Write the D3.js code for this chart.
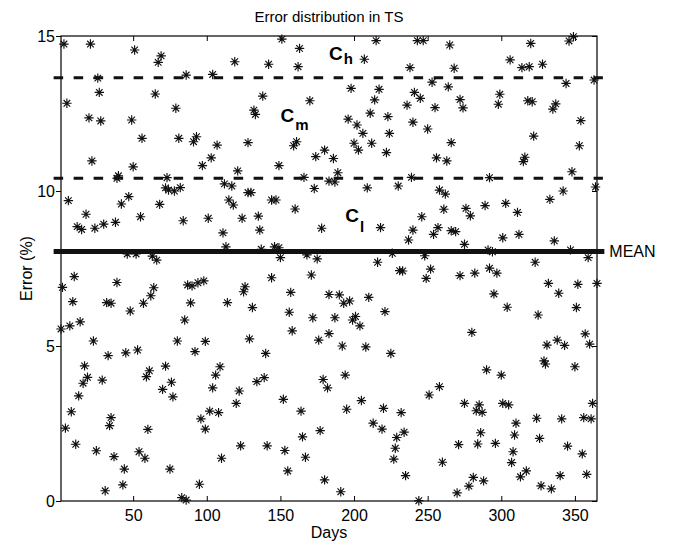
<!DOCTYPE html>
<html>
<head>
<meta charset="utf-8">
<script src="https://cdn.jsdelivr.net/npm/d3@7"></script>
<style>
  body { margin: 0; background: #fff; }
  text { font-family: "Liberation Sans", Arial, sans-serif; fill: #000; }
</style>
</head>
<body>
<div id="chart"></div>
<script>
// one reading per point, day of year and error in %
var days = [
  3, 21, 51, 69, 67, 26, 86, 27, 5, 65, 79, 20, 28, 49, 56, 81, 91, 22, 50, 40, 39, 73, 72, 74, 78, 82,
  151, 163, 119, 142, 162, 104, 138, 170, 132, 133, 93, 107, 128, 161, 159, 180, 103, 174, 97, 121, 149, 166, 112, 117, 173, 183,
  215, 243, 247, 265, 207, 238, 268, 253, 264, 198, 217, 241, 245, 214, 236, 255, 272, 274, 211, 223, 196, 202, 240, 250,
  206, 224, 200, 203, 212, 222, 266, 186, 256, 263, 189, 187, 239, 209, 230, 258, 262,
  349, 346, 320, 306, 314, 319, 328, 344, 363, 299, 298, 318, 321, 337, 335, 354, 322, 353, 316, 315, 348, 292, 364, 342,
  6, 18, 12, 15, 24, 30, 38, 42, 47, 55, 68, 84, 46, 52, 63, 66, 10, 2, 39, 64, 62, 87, 90, 9, 32, 35, 57, 48, 89, 14, 7, 1, 85, 23, 80,
  128, 130, 115, 118, 144, 147, 160, 101, 124, 135, 178, 111, 136, 113, 137, 146, 149, 150, 168, 175, 144, 171, 98, 94,
  126, 125, 157, 183, 114, 131, 156, 172, 158, 99, 129, 176, 183,
  261, 276, 279, 246, 218, 240, 257, 254, 266, 269, 237, 275, 226, 248, 216, 231, 233, 252, 249, 272,
  190, 193, 197, 210, 221, 187, 201, 199, 204, 192, 208,
  333, 289, 303, 311, 301, 312, 336, 291, 294, 347, 359, 323, 282, 292, 297, 332, 339, 352, 365, 295, 304, 325, 351,
  280, 357, 338, 331, 343, 360,
  33, 45, 53, 92, 17, 19, 16, 29, 13, 61, 59, 72, 76, 70, 77, 8, 4, 35, 34, 60, 11, 25, 37, 54, 58, 44, 75, 31, 43, 83, 86,
  140, 109, 106, 104, 134, 139, 122, 120, 179, 182, 152, 102, 108, 96, 99, 164, 177, 165, 123, 141, 153, 110, 167, 155, 95, 180,
  225, 194, 205, 195, 220, 232, 213, 219, 234, 229, 228, 227, 251, 258, 275, 271, 260, 235, 191, 244, 270,
  329, 330, 350, 290, 300, 285, 283, 287, 301, 305, 310, 309, 324, 341, 356, 361, 362, 286, 284, 296, 326, 308, 307,
  345, 355, 317, 313, 340, 358, 281, 278, 288, 327, 334
]

var errors = [
  14.74, 14.74, 14.55, 14.36, 14.15, 13.64, 13.74, 13.18, 12.83, 13.13, 12.67, 12.36, 12.26, 12.29, 11.70, 11.70, 11.59, 10.97, 10.78, 10.49, 10.41, 10.43, 10.10, 10.03, 10.00, 10.11,
  14.90, 14.60, 14.17, 14.09, 14.01, 13.76, 13.06, 12.91, 12.61, 12.47, 11.75, 11.48, 11.56, 11.59, 11.46, 11.32, 11.07, 11.11, 10.82, 10.65, 10.82, 10.44, 10.23, 10.16, 10.08, 10.32,
  14.85, 14.85, 14.85, 14.71, 14.25, 13.98, 13.96, 13.51, 13.36, 13.31, 13.28, 13.18, 12.99, 12.94, 12.77, 12.69, 12.95, 12.68, 12.51, 12.40, 12.32, 12.13, 12.22, 12.00,
  11.86, 11.86, 11.54, 11.32, 11.54, 11.24, 11.56, 11.05, 11.07, 10.97, 10.59, 10.29, 10.44, 10.10, 10.16, 10.03, 9.90,
  14.98, 14.84, 14.76, 14.23, 13.98, 14.01, 14.09, 13.47, 13.58, 13.12, 12.80, 12.91, 12.88, 12.81, 12.64, 12.27, 11.77, 11.46, 11.09, 10.95, 10.62, 10.43, 10.13, 10.00,
  9.69, 9.25, 8.85, 8.76, 8.80, 8.93, 8.99, 9.58, 9.82, 9.17, 9.57, 9.04, 7.97, 7.97, 7.90, 7.77, 7.24, 6.89, 7.05, 6.88, 6.62, 6.97, 6.94, 6.43, 6.40, 6.38, 6.38, 6.13, 6.39, 5.78, 5.65, 5.55, 5.84, 5.16, 5.16,
  9.95, 9.95, 9.71, 9.55, 9.71, 9.71, 9.42, 9.12, 9.12, 9.19, 8.80, 8.65, 8.74, 8.20, 8.12, 8.20, 8.17, 7.85, 7.94, 7.81, 7.20, 7.29, 7.10, 7.04,
  6.91, 6.75, 6.73, 6.66, 6.40, 6.24, 6.09, 5.91, 5.49, 5.15, 5.23, 5.19, 5.40,
  9.41, 9.44, 9.20, 9.17, 8.82, 8.74, 8.82, 8.60, 8.72, 8.69, 8.42, 8.28, 7.99, 7.91, 7.70, 7.43, 7.42, 7.48, 7.18, 7.27,
  6.65, 6.38, 6.45, 6.57, 6.11, 5.91, 5.95, 5.84, 5.65, 5.00, 4.97,
  9.73, 9.53, 9.60, 9.31, 8.49, 8.60, 8.39, 8.10, 8.04, 8.10, 7.85, 7.70, 7.35, 7.51, 7.35, 7.02, 6.70, 6.99, 7.02, 6.68, 6.25, 6.00, 6.24,
  5.44, 5.39, 5.19, 5.03, 5.02, 5.06,
  4.69, 4.78, 4.87, 4.82, 4.36, 3.99, 3.80, 3.90, 3.39, 4.20, 4.01, 4.35, 3.83, 3.60, 3.36, 2.88, 2.35, 2.69, 2.43, 2.31, 1.83, 1.62, 1.43, 1.59, 1.38, 1.03, 1.03, 0.33, 0.52, 0.11, 0.03,
  4.76, 4.33, 4.06, 3.65, 3.85, 3.98, 3.55, 3.15, 3.92, 3.65, 3.28, 2.90, 2.85, 2.65, 2.32, 2.90, 2.27, 2.07, 1.78, 1.78, 1.63, 1.38, 1.41, 0.97, 0.54, 0.68,
  4.76, 4.06, 3.24, 2.96, 2.99, 2.85, 2.51, 2.32, 2.22, 2.05, 1.70, 1.35, 3.42, 3.69, 3.15, 1.82, 1.25, 0.82, 0.30, 0.01, 0.26,
  4.52, 4.42, 4.33, 4.23, 4.06, 3.10, 2.91, 2.86, 3.15, 3.10, 2.51, 2.13, 2.67, 2.65, 2.69, 2.65, 3.15, 2.20, 1.84, 1.86, 2.02, 1.59, 1.24,
  1.77, 1.52, 0.97, 0.78, 0.82, 0.86, 0.76, 0.48, 0.65, 0.49, 0.39
]

var meanError = 8.05
var classBounds = [13.65, 10.41]
var classNames = ["h", "m", "l"]
var classDays = [183, 150, 194]
var classValues = [14.23, 12.24, 9.01]

var xTicks = [50, 100, 150, 200, 250, 300, 350]
var yTicks = [0, 5, 10, 15]

var margin = { top: 36, right: 78, bottom: 41, left: 61 }
var width = 675 - margin.left - margin.right,
    height = 542 - margin.top - margin.bottom

var svg = d3.select("#chart").append("svg")
    .attr("width", 675)
    .attr("height", 542)
  .append("g")
    .attr("transform", "translate(" + margin.left + "," + margin.top + ")")

var x = d3.scaleLinear().domain([1, 365]).range([0, width])
var y = d3.scaleLinear().domain([0, 15]).range([height, 0])

// axes, matlab style box
svg.append("g")
    .attr("transform", "translate(0," + height + ")")
    .call(d3.axisBottom(x).tickValues(xTicks).tickSizeInner(-5).tickSizeOuter(0).tickPadding(9))
svg.append("g")
    .call(d3.axisTop(x).tickValues(xTicks).tickSizeInner(-5).tickSizeOuter(0).tickFormat(""))
svg.append("g")
    .call(d3.axisLeft(y).tickValues(yTicks).tickSizeInner(5).tickSizeOuter(0).tickPadding(1))
svg.append("g")
    .attr("transform", "translate(" + width + ",0)")
    .call(d3.axisRight(y).tickValues(yTicks).tickSizeInner(-5).tickSizeOuter(0).tickFormat(""))

svg.selectAll(".domain").remove()
svg.selectAll(".tick line").attr("stroke", "#000")
svg.selectAll(".tick text")
    .style("font-size", "16px")
    .style("font-family", "'Liberation Sans', Arial, sans-serif")
    .attr("fill", "#000")

svg.append("rect")
    .attr("x", 0)
    .attr("y", 0)
    .attr("width", width)
    .attr("height", height)
    .attr("fill", "none")
    .attr("stroke", "#000")
    .attr("stroke-width", 1.2)

// asterisk markers
var star = "M-4.7,0H4.7M0,-4.7V4.7M-3.3,-3.3L3.3,3.3M-3.3,3.3L3.3,-3.3"
svg.selectAll(".pt")
    .data(days)
    .enter().append("path")
    .attr("class", "pt")
    .attr("d", star)
    .attr("transform", function(d, i) {
      return "translate(" + x(d) + "," + y(errors[i]) + ")"
    })
    .attr("fill", "none")
    .attr("stroke", "#111")
    .attr("stroke-width", 1.15)

// class boundaries and mean
svg.selectAll(".bound")
    .data(classBounds)
    .enter().append("line")
    .attr("class", "bound")
    .attr("x1", x(-4))
    .attr("x2", x(369))
    .attr("y1", function(d) { return y(d) })
    .attr("y2", function(d) { return y(d) })
    .attr("stroke", "#111")
    .attr("stroke-width", 3)
    .attr("stroke-dasharray", "9.5,10.5")

svg.append("line")
    .attr("x1", x(-4))
    .attr("x2", x(370))
    .attr("y1", y(meanError))
    .attr("y2", y(meanError))
    .attr("stroke", "#111")
    .attr("stroke-width", 5)

svg.append("text")
    .attr("x", x(370) + 5)
    .attr("y", y(meanError))
    .attr("dy", "0.36em")
    .style("font-size", "16px")
    .text("MEAN")

var lab = svg.selectAll(".cls")
    .data(classNames)
    .enter().append("text")
    .attr("class", "cls")
    .attr("x", function(d, i) { return x(classDays[i]) })
    .attr("y", function(d, i) { return y(classValues[i]) })
    .style("font-weight", "bold")
    .style("font-size", "19px")
lab.append("tspan").text("C")
lab.append("tspan")
    .attr("dx", 1)
    .attr("dy", function(d, i) { return [4, 8, 10][i] })
    .style("font-size", "15px")
    .text(function(d) { return d })

// titles
svg.append("text")
    .attr("x", width / 2)
    .attr("y", -14)
    .attr("text-anchor", "middle")
    .style("font-size", "15px")
    .text("Error distribution in TS")

svg.append("text")
    .attr("x", width / 2)
    .attr("y", height + 37)
    .attr("text-anchor", "middle")
    .style("font-size", "16px")
    .text("Days")

svg.append("text")
    .attr("transform", "translate(" + (-29) + "," + (height / 2) + ") rotate(-90)")
    .attr("text-anchor", "middle")
    .style("font-size", "16px")
    .text("Error (%)")
</script>
</body>
</html>
